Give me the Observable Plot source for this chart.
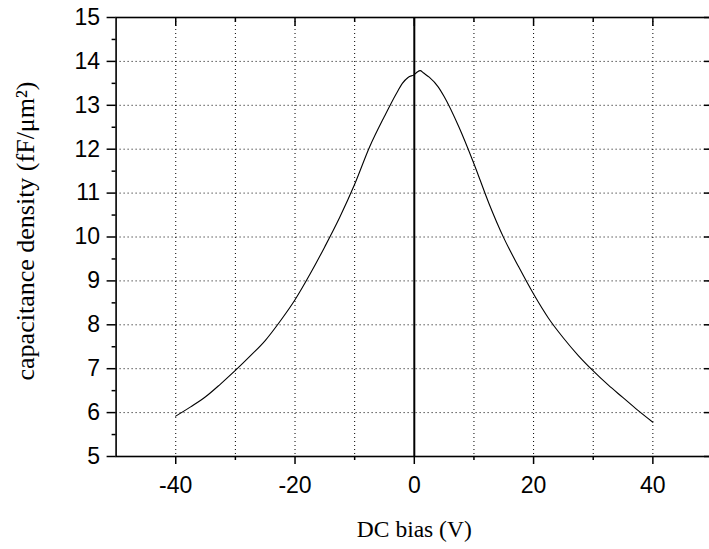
<!DOCTYPE html>
<html>
<head>
<meta charset="utf-8">
<script src="https://cdn.jsdelivr.net/npm/d3@7"></script>
<script src="https://cdn.jsdelivr.net/npm/@observablehq/plot@0.6"></script>
<style>
  html, body { margin: 0; padding: 0; background: #fff; overflow: hidden; }
  svg { display: block; }
</style>
</head>
<body>
<div id="chart"></div>
<script>
// DC bias (V)
const voltage = [-40, -37.5, -35, -32.5, -30, -27.5, -25, -22.5, -20, -17.5, -15, -12.5, -10, -7.5, -5, -3, -2, -1, 0, 0.5, 1, 1.5, 2.5, 4, 5, 7.5, 10, 12.5, 15, 17.5, 20, 22.5, 25, 27.5, 30, 32.5, 35, 37.5, 40];
// capacitance density (fF/µm²)
const capacitance = [5.92, 6.13, 6.36, 6.65, 6.96, 7.29, 7.64, 8.08, 8.57, 9.15, 9.78, 10.45, 11.2, 12.05, 12.75, 13.27, 13.5, 13.64, 13.7, 13.76, 13.79, 13.74, 13.64, 13.42, 13.2, 12.5, 11.67, 10.77, 9.98, 9.32, 8.7, 8.15, 7.7, 7.3, 6.95, 6.63, 6.34, 6.05, 5.78];

const xMajor = [-40, -20, 0, 20, 40];
const xMinor = [-30, -10, 10, 30];
const xGrid = [-40, -30, -20, -10, 10, 20, 30, 40];
const yMajor = [5, 6, 7, 8, 9, 10, 11, 12, 13, 14, 15];
const yMinor = [5.5, 6.5, 7.5, 8.5, 9.5, 10.5, 11.5, 12.5, 13.5, 14.5];
const yGrid = [6, 7, 8, 9, 10, 11, 12, 13, 14];
const xLabel = "DC bias (V)";
const yLabel = "capacitance density (fF/\u03BCm\u00B2)";

const data = voltage.map((v, i) => ({v, c: capacitance[i]}));
const none = () => "";
const plain = d => String(d);
const tickFont = "Liberation Sans, Arial, sans-serif";
const labelFont = "Liberation Serif, Times New Roman, serif";

const chart = Plot.plot({
  width: 709,
  height: 549,
  marginLeft: 115.6,
  marginRight: -3,
  marginTop: 17,
  marginBottom: 93,
  style: {background: "#fff", color: "#000"},
  x: {domain: [-50, 50]},
  y: {domain: [5, 15]},
  marks: [
    Plot.gridX(xGrid, {stroke: "#000", strokeOpacity: 1, strokeWidth: 1, strokeDasharray: "1,3"}),
    Plot.gridY(yGrid, {stroke: "#000", strokeOpacity: 1, strokeWidth: 1, strokeDasharray: "1,3"}),
    Plot.ruleX([0], {stroke: "#000", strokeWidth: 2}),
    Plot.line(data, {x: "v", y: "c", stroke: "#000", strokeWidth: 1.1, curve: "monotone-x"}),
    Plot.frame({stroke: "#000", strokeWidth: 1.6}),
    // bottom axis
    Plot.axisX(xMajor, {anchor: "bottom", tickSize: 8, tickPadding: 12, tickFormat: plain, fontSize: 23, fontFamily: tickFont, strokeWidth: 1.5, label: null}),
    Plot.axisX(xMinor, {anchor: "bottom", tickSize: 4, tickFormat: none, strokeWidth: 1.5, label: null}),
    // top axis (inward)
    Plot.axisX(xMajor, {anchor: "top", tickSize: -8, tickFormat: none, strokeWidth: 1.5, label: null}),
    Plot.axisX(xMinor, {anchor: "top", tickSize: -4, tickFormat: none, strokeWidth: 1.5, label: null}),
    // left axis
    Plot.axisY(yMajor, {anchor: "left", tickSize: 9, tickPadding: 7, tickFormat: plain, fontSize: 23, fontFamily: tickFont, strokeWidth: 1.5, label: null}),
    Plot.axisY(yMinor, {anchor: "left", tickSize: 4, tickFormat: none, strokeWidth: 1.5, label: null}),
    // right axis (inward)
    Plot.axisY(yMajor, {anchor: "right", tickSize: -9, tickFormat: none, strokeWidth: 1.5, label: null}),
    Plot.axisY(yMinor, {anchor: "right", tickSize: -4, tickFormat: none, strokeWidth: 1.5, label: null}),
    // axis titles
    Plot.text([xLabel], {frameAnchor: "bottom", dy: 73, lineAnchor: "middle", fontSize: 23.5, fontFamily: labelFont, fill: "#000"}),
    Plot.text([yLabel], {frameAnchor: "left", dx: -90.6, dy: -6, rotate: -90, lineAnchor: "middle", textAnchor: "middle", fontSize: 26, fontFamily: labelFont, fill: "#000"})
  ]
});
document.getElementById("chart").appendChild(chart);
</script>
</body>
</html>
